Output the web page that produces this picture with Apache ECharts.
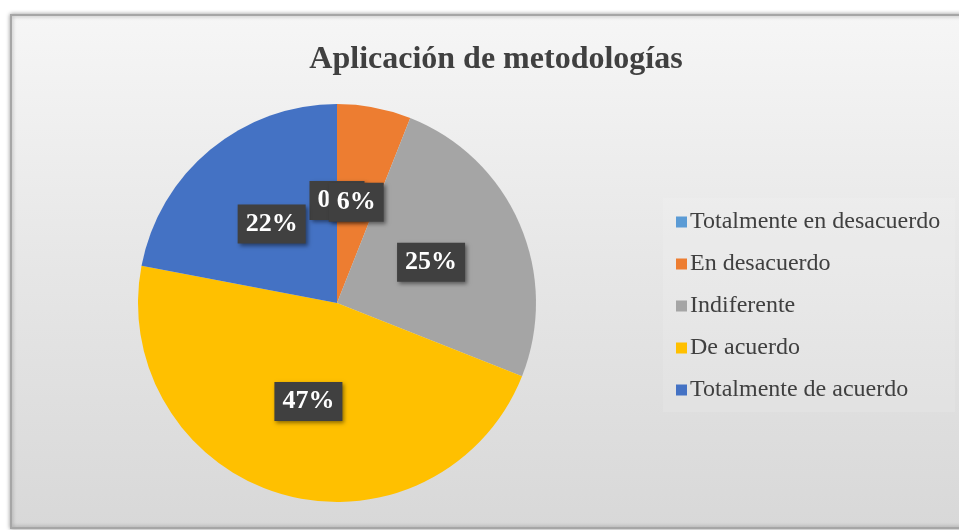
<!DOCTYPE html>
<html>
<head>
<meta charset="utf-8">
<script src="https://cdn.jsdelivr.net/npm/echarts@6/dist/echarts.min.js"></script>
<style>
  html, body { margin: 0; padding: 0; background: #fff; }
  #chart { width: 959px; height: 530px; }
</style>
</head>
<body>
<div id="chart"></div>
<script>
// categorias y porcentajes
const categorias = ['Totalmente en desacuerdo', 'En desacuerdo', 'Indiferente', 'De acuerdo', 'Totalmente de acuerdo'];
const valores = [0, 6, 25, 47, 22];
const colores = ['#5B9BD5', '#ED7D31', '#A5A5A5', '#FFC000', '#4472C4'];

const serif = '"Liberation Serif", "DejaVu Serif", serif';

const myChart = echarts.init(document.getElementById('chart'));

const option = {
  backgroundColor: '#ffffff',
  color: colores,
  // marco con degradado y bisel
  graphic: [{
    type: 'rect',
    z: -10,
    shape: { x: 11, y: 15, width: 960, height: 513 },
    style: {
      fill: new echarts.graphic.LinearGradient(0, 0, 0, 1, [
        { offset: 0, color: '#f6f6f6' },
        { offset: 0.5, color: '#e6e6e6' },
        { offset: 1, color: '#d8d8d8' }
      ]),
      stroke: '#a6a6a6',
      lineWidth: 2,
      shadowColor: 'rgba(0,0,0,0.35)',
      shadowBlur: 4
    }
  }, {
    type: 'rect',
    z: -9,
    shape: { x: 663, y: 198, width: 292, height: 214 },
    style: { fill: 'rgba(255,255,255,0.12)' }
  }],
  title: {
    text: 'Aplicación de metodologías',
    left: 491,
    top: 39,
    textAlign: 'center',
    textStyle: {
      fontFamily: serif,
      fontWeight: 'bold',
      fontSize: 32,
      color: '#404040'
    }
  },
  legend: {
    orient: 'vertical',
    left: 671,
    top: 205,
    itemWidth: 11,
    itemHeight: 11,
    itemGap: 18,
    icon: 'rect',
    textStyle: {
      fontFamily: serif,
      fontSize: 24,
      color: '#404040',
      padding: [0, 0, 0, -2]
    },
    data: categorias
  },
  series: [{
    type: 'pie',
    center: [337, 303],
    radius: [0, 199],
    startAngle: 90,
    clockwise: true,
    avoidLabelOverlap: false,
    labelLine: { show: false },
    itemStyle: { borderWidth: 0 },
    label: {
      show: true,
      position: 'inside',
      formatter: '{d}%',
      fontFamily: serif,
      fontWeight: 'bold',
      fontSize: 26,
      color: '#ffffff',
      backgroundColor: '#404040',
      padding: [8, 8, 5, 8],
      shadowColor: 'rgba(0,0,0,0.45)',
      shadowBlur: 4,
      shadowOffsetX: 2,
      shadowOffsetY: 2
    },
    labelLayout: { hideOverlap: false },
    data: categorias.map((nombre, i) => ({ name: nombre, value: valores[i] }))
  }]
};

myChart.setOption(option);
</script>
</body>
</html>
